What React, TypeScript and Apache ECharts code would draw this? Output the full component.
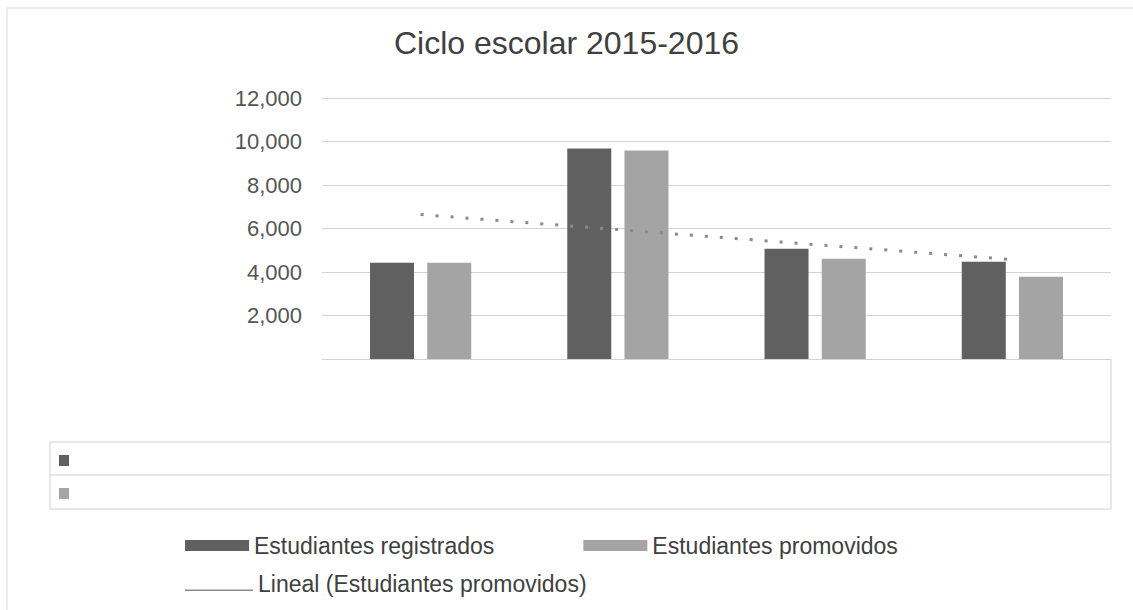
import React, { useEffect, useRef } from "react";
import * as echarts from "echarts";

const categories = ["Grupo 1", "Grupo 2", "Grupo 3", "Grupo 4"];
const registrados = [4420, 9680, 5070, 4470];
const promovidos = [4420, 9590, 4610, 3780];
const tendencia = [6640, null, null, 4570];
const yTicks = [0, 2000, 4000, 6000, 8000, 10000, 12000];

const FONT = "'Liberation Sans', Arial, sans-serif";
const DARK = "#606060";
const LIGHT = "#a4a4a4";
const GRID = "#d2d2d2";

export default function App() {
  const ref = useRef<HTMLDivElement>(null);
  useEffect(() => {
    if (!ref.current) return;
    const chart = echarts.init(ref.current, null, { renderer: "svg" });
    chart.setOption({
      animation: false,
      backgroundColor: "#ffffff",
      title: {
        text: "Ciclo escolar 2015-2016",
        left: "center",
        top: 22,
        textStyle: { fontFamily: FONT, fontSize: 32, fontWeight: "normal", color: "#404040" },
      },
      grid: { left: 322, right: 22, top: 98, height: 261, outerBoundsMode: "none" },
      xAxis: {
        type: "category",
        data: categories,
        axisLine: { show: false },
        axisTick: { show: false },
        axisLabel: { show: false },
      },
      yAxis: {
        type: "value",
        min: yTicks[0],
        max: yTicks[yTicks.length - 1],
        interval: 2000,
        axisLine: { show: false },
        axisTick: { show: false },
        splitLine: { lineStyle: { color: GRID, width: 1 } },
        axisLabel: {
          margin: 20,
          fontFamily: FONT,
          fontSize: 22,
          color: "#555555",
          formatter: (v: number) => (v === 0 ? "" : v.toLocaleString("en-US")),
        },
      },
      legend: [
        {
          data: ["Estudiantes registrados", "Estudiantes promovidos"],
          left: 180,
          top: 529,
          itemWidth: 64,
          itemHeight: 11,
          itemGap: 89,
          icon: "rect",
          textStyle: { fontFamily: FONT, fontSize: 23, color: "#404040" },
        },
        {
          data: ["Lineal (Estudiantes promovidos)"],
          left: 180,
          top: 567,
          itemWidth: 68,
          itemHeight: 15,
          icon: "path://M0,0 L0.1,0 L0.1,0.1 Z M0,13.5 L68,13.5 L68,15 L0,15 Z",
          itemStyle: { color: "#8a8a8a" },
          textStyle: { fontFamily: FONT, fontSize: 23, color: "#404040" },
        },
      ],
      series: [
        {
          name: "Estudiantes registrados",
          type: "bar",
          data: registrados,
          barWidth: 44,
          barGap: "30%",
          itemStyle: { color: DARK },
        },
        {
          name: "Estudiantes promovidos",
          type: "bar",
          data: promovidos,
          barWidth: 44,
          itemStyle: { color: LIGHT },
        },
        {
          name: "Lineal (Estudiantes promovidos)",
          type: "line",
          data: tendencia,
          connectNulls: true,
          symbol: "none",
          z: 5,
          lineStyle: { color: "#8a8a8a", width: 3, type: [3, 12] },
          itemStyle: { color: "#8a8a8a" },
        },
      ],
      graphic: [
        {
          type: "rect",
          silent: true,
          shape: { x: 7, y: 8, width: 1140, height: 620 },
          style: { fill: "none", stroke: "#d9d9d9", lineWidth: 1 },
        },
        {
          type: "line",
          silent: true,
          shape: { x1: 1111, y1: 359, x2: 1111, y2: 442 },
          style: { stroke: GRID, lineWidth: 1 },
        },
        {
          type: "rect",
          silent: true,
          shape: { x: 50, y: 442, width: 1061, height: 67 },
          style: { fill: "none", stroke: GRID, lineWidth: 1 },
        },
        {
          type: "line",
          silent: true,
          shape: { x1: 50, y1: 475, x2: 1111, y2: 475 },
          style: { stroke: GRID, lineWidth: 1 },
        },
        {
          type: "rect",
          silent: true,
          shape: { x: 59, y: 455, width: 10, height: 11 },
          style: { fill: DARK },
        },
        {
          type: "rect",
          silent: true,
          shape: { x: 59, y: 488, width: 10, height: 11 },
          style: { fill: LIGHT },
        },
      ],
    });
    return () => chart.dispose();
  }, []);
  return (
    <div
      ref={ref}
      style={{ position: "fixed", left: 0, top: 0, width: 1133, height: 610 }}
    />
  );
}
